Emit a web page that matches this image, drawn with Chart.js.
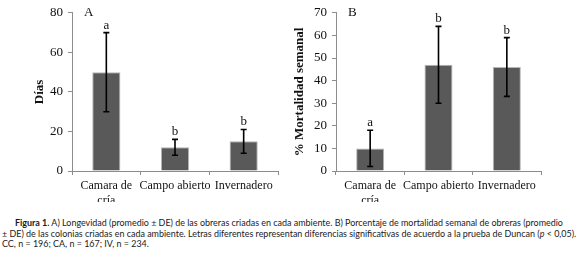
<!DOCTYPE html>
<html>
<head>
<meta charset="utf-8">
<script src="https://cdn.jsdelivr.net/npm/chart.js@4"></script>
<style>
  html, body { margin: 0; padding: 0; background: #fff; }
  body { width: 577px; height: 254px; position: relative; overflow: hidden; }
  #wrapA { position: absolute; left: 0; top: 0; width: 285px; height: 202px; }
  #wrapB { position: absolute; left: 285px; top: 0; width: 292px; height: 202px; }
  .caption { position: absolute; left: 2px; width: 575px; font-family: Lato, sans-serif;
             font-size: 8.95px; color: #1a1a1a; white-space: nowrap; line-height: 10.5px; }
  .caption b { font-weight: 700; }
</style>
</head>
<body>
<div id="wrapA"><canvas id="chartA"></canvas></div>
<div id="wrapB"><canvas id="chartB"></canvas></div>
<div class="caption" style="top:218px">
  <div style="padding-left:13px"><b>Figura 1.</b> A) Longevidad (promedio ± DE) de las obreras criadas en cada ambiente. B) Porcentaje de mortalidad semanal de obreras (promedio</div>
  <div>± DE) de las colonias criadas en cada ambiente. Letras diferentes representan diferencias significativas de acuerdo a la prueba de Duncan (<i>p</i> &lt; 0,05).</div>
  <div>CC, n = 196; CA, n = 167; IV, n = 234.</div>
</div>
<script>
/* Categorías comunes a ambos paneles */
const categories = [['Camara de', 'cría'], 'Campo abierto', 'Invernadero'];

/* Panel A: longevidad (días) */
const meansA  = [50, 12, 15];
const lowA    = [30, 8, 9];
const highA   = [70, 16, 21];
const lettersA = ['a', 'b', 'b'];
const ticksA  = [0, 20, 40, 60, 80];

/* Panel B: % mortalidad semanal */
const meansB  = [10, 47, 46];
const lowB    = [2, 30, 33];
const highB   = [18, 64, 59];
const lettersB = ['a', 'b', 'b'];
const ticksB  = [0, 10, 20, 30, 40, 50, 60, 70];

const SERIF = "'Liberation Serif', 'Times New Roman', serif";
const BAR = '#595959';
const AXIS = '#8c8c8c';

/* Barras de error (± DE) y letras de Duncan dibujadas con las escalas del gráfico */
const errorBars = {
  id: 'errorBars',
  afterDatasetsDraw(chart, args, opts) {
    const { ctx, scales: { x, y } } = chart;
    ctx.save();
    ctx.strokeStyle = '#000';
    ctx.lineWidth = 1.6;
    opts.low.forEach((lo, i) => {
      const px = x.getPixelForValue(i);
      const yl = y.getPixelForValue(lo);
      const yh = y.getPixelForValue(opts.high[i]);
      ctx.beginPath();
      ctx.moveTo(px, yl); ctx.lineTo(px, yh);
      ctx.moveTo(px - 3, yl); ctx.lineTo(px + 3, yl);
      ctx.moveTo(px - 3, yh); ctx.lineTo(px + 3, yh);
      ctx.stroke();
      ctx.fillStyle = '#111';
      ctx.font = `13px ${SERIF}`;
      ctx.textAlign = 'center';
      ctx.textBaseline = 'alphabetic';
      ctx.fillText(opts.letters[i], px, yh - 4);
    });
    // letra del panel
    ctx.font = `13px ${SERIF}`;
    ctx.textAlign = 'left';
    ctx.textBaseline = 'middle';
    ctx.fillStyle = '#111';
    ctx.fillText(opts.panel, chart.chartArea.left + opts.panelDx, chart.chartArea.top);
    ctx.restore();
  },
};

function makeChart(id, means, low, high, letters, ticks, max, title, o) {
  return new Chart(document.getElementById(id), {
    type: 'bar',
    data: {
      labels: categories,
      datasets: [{
        data: means,
        backgroundColor: BAR,
        borderColor: '#b5b5b5',
        borderWidth: 1,
        categoryPercentage: 1,
        barPercentage: 0.41,
      }],
    },
    options: {
      responsive: true, maintainAspectRatio: false, animation: false,
      layout: { padding: { left: 0, top: o.top, right: o.right, bottom: 0 } },
      plugins: {
        legend: { display: false },
        tooltip: { enabled: false },
        errorBars: { low, high, letters, panel: o.panel, panelDx: o.panelDx },
      },
      scales: {
        x: {
          grid: { display: true, drawOnChartArea: false, offset: true, color: AXIS, tickLength: 4 },
          border: { color: AXIS },
          ticks: { color: '#111', font: { family: SERIF, size: 12 }, padding: 4, maxRotation: 0, autoSkip: false },
          afterFit: (s) => { s.height = 202 - o.bottom; },
        },
        y: {
          min: 0, max,
          afterBuildTicks: (s) => { s.ticks = ticks.map(v => ({ value: v })); },
          grid: { display: true, drawOnChartArea: false, color: AXIS, tickLength: 4 },
          border: { color: AXIS },
          ticks: { color: '#111', font: { family: SERIF, size: 13 }, padding: 5 },
          title: {
            display: true, text: title, color: '#111',
            font: { family: SERIF, size: 13, weight: 'bold' },
            padding: { top: o.titlePad, bottom: 0 },
          },
          afterFit: (s) => { s.width = o.left; },
        },
      },
    },
    plugins: [errorBars],
  });
}

makeChart('chartA', meansA, lowA, highA, lettersA, ticksA, 80, 'Días',
  { left: 72, right: 7, top: 10, bottom: 171, titlePad: 32, panel: 'A', panelDx: 12 });
makeChart('chartB', meansB, lowB, highB, lettersB, ticksB, 70, '% Mortalidad semanal',
  { left: 51, right: 36, top: 9, bottom: 171, titlePad: 7, panel: 'B', panelDx: 12 });
</script>
</body>
</html>
